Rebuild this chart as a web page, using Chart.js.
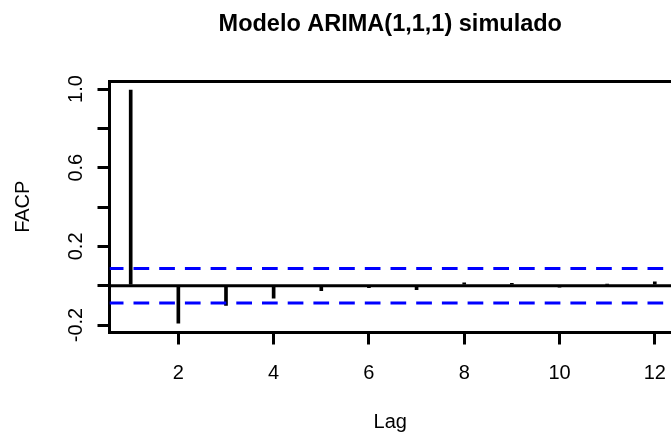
<!DOCTYPE html>
<html>
<head>
<meta charset="utf-8">
<script src="https://cdn.jsdelivr.net/npm/chart.js@4/dist/chart.umd.min.js"></script>
<style>
  html, body { margin: 0; padding: 0; background: #fff; overflow: hidden; }
  #wrap { width: 671px; height: 437px; }
</style>
</head>
<body>
<div id="wrap"><canvas id="myChart" width="671" height="437"></canvas></div>
<script>
var chartTitle = 'Modelo ARIMA(1,1,1) simulado';
var xLabel = 'Lag';
var yLabel = 'FACP';

var lags = [1, 2, 3, 4, 5, 6, 7, 8, 9, 10, 11, 12];
var pacfValues = [0.995, -0.191, -0.100, -0.064, -0.025, -0.010, -0.020, 0.015, 0.012, -0.006, 0.006, 0.020];
var ciLimit = 0.088;

var xTicks = [2, 4, 6, 8, 10, 12];
var yTicks = [-0.2, 0, 0.2, 0.4, 0.6, 0.8, 1.0];
var yTickLabels = ['-0.2', '', '0.2', '', '0.6', '', '1.0'];

var xMin = 0.555, xMax = 12.34;
var yMin = -0.238, yMax = 1.041;

var myChart;

function hLine(y) {
    return [{ x: xMin, y: y }, { x: xMax, y: y }];
}

// R-like plot box: fixed sizes, no extra room for edge labels
function fixHeight(h) {
    return function (axis) {
        axis.height = h;
        axis.paddingLeft = 0;
        axis.paddingRight = 0;
    };
}

var initChart = function () {
    Chart.defaults.font.family = "'Liberation Sans', Arial, sans-serif";
    Chart.defaults.font.size = 20;
    Chart.defaults.color = '#000';

    var spikes = lags.map(function (lag, i) {
        return { x: lag, y: pacfValues[i] };
    });

    var dashed = {
        type: 'line',
        borderColor: '#0000ff',
        borderWidth: 3,
        borderDash: [15.7, 10],
        borderDashOffset: 1.7,
        pointRadius: 0,
        fill: false,
        order: 0
    };

    var data = {
        datasets: [
            Object.assign({ label: 'ci upper', data: hLine(ciLimit) }, dashed),
            Object.assign({ label: 'ci lower', data: hLine(-ciLimit) }, dashed),
            {
                label: 'FACP',
                data: spikes,
                backgroundColor: '#000',
                borderWidth: 0,
                barThickness: 3,
                grouped: false,
                order: 1
            },
            {
                type: 'line',
                label: 'zero',
                data: hLine(0),
                borderColor: '#000',
                borderWidth: 3,
                pointRadius: 0,
                fill: false,
                order: 2
            }
        ]
    };

    var options = {
        responsive: false,
        animation: false,
        devicePixelRatio: 1,
        layout: { padding: 0 },
        plugins: {
            legend: { display: false },
            tooltip: { enabled: false }
        },
        scales: {
            x: {
                type: 'linear',
                position: 'bottom',
                min: xMin,
                max: xMax,
                offset: false,
                afterBuildTicks: function (axis) {
                    axis.ticks = xTicks.map(function (v) { return { value: v }; });
                },
                afterFit: fixHeight(104.5),
                ticks: { autoSkip: false, maxRotation: 0, padding: 17 },
                grid: {
                    display: true,
                    drawOnChartArea: false,
                    drawTicks: true,
                    tickLength: 12,
                    tickWidth: 3,
                    tickColor: '#000',
                    lineWidth: 3,
                    offset: false
                },
                border: { display: true, color: '#000', width: 3 },
                title: { display: true, text: xLabel, padding: { top: 20, bottom: 3 } }
            },
            x2: {
                type: 'linear',
                position: 'top',
                min: xMin,
                max: xMax,
                afterFit: fixHeight(81),
                ticks: { display: false },
                grid: { display: false, drawTicks: false },
                border: { display: true, color: '#000', width: 3 },
                title: {
                    display: true,
                    text: chartTitle,
                    font: { size: 23.5, weight: 'bold' },
                    padding: { top: 10, bottom: 0 }
                }
            },
            y: {
                type: 'linear',
                position: 'left',
                min: yMin,
                max: yMax,
                afterBuildTicks: function (axis) {
                    axis.ticks = yTicks.map(function (v) { return { value: v }; });
                },
                afterFit: function (axis) { axis.width = 109.5; },
                ticks: {
                    autoSkip: false,
                    minRotation: 90,
                    maxRotation: 90,
                    crossAlign: 'center',
                    padding: 4,
                    callback: function (value, index) { return yTickLabels[index]; }
                },
                grid: {
                    display: true,
                    drawOnChartArea: false,
                    drawTicks: true,
                    tickLength: 12,
                    tickWidth: 3,
                    tickColor: '#000',
                    lineWidth: 3
                },
                border: { display: true, color: '#000', width: 3 },
                title: { display: true, text: yLabel, padding: { top: 11, bottom: 0 } }
            }
        }
    };

    var ctx = document.getElementById('myChart');
    myChart = new Chart(ctx, {
        type: 'bar',
        data: data,
        options: options
    });
};

initChart();
</script>
</body>
</html>
